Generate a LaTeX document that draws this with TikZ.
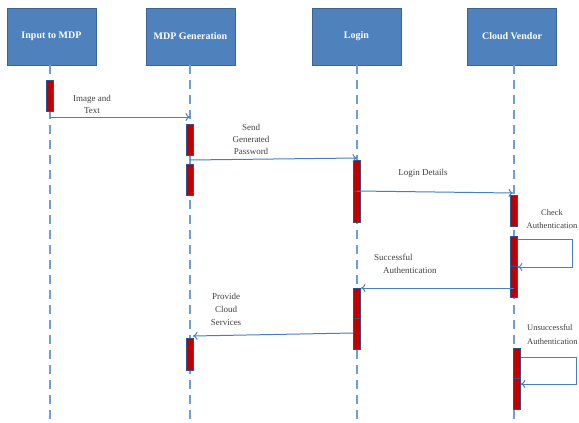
\documentclass[tikz,border=0pt]{standalone}
\usepackage{fontspec}
\setmainfont{Liberation Serif}
\usetikzlibrary{arrows.meta}
\definecolor{boxblue}{HTML}{4F81BD}
\definecolor{boxedge}{HTML}{3A6496}
\definecolor{lifeblue}{HTML}{6F9FD8}
\definecolor{barred}{HTML}{C00000}
\definecolor{baredge}{HTML}{2F528F}
\definecolor{arrowblue}{HTML}{4A7EC2}
\begin{document}
\begin{tikzpicture}[x=1pt,y=-1pt,
  actor/.style={draw=boxedge, fill=boxblue, line width=0.8pt, minimum width=89pt, minimum height=57pt, inner sep=0pt, text=white, font=\bfseries\fontsize{10}{12}\selectfont},
  lifeline/.style={draw=lifeblue, line width=1.1pt, dash pattern=on 9pt off 6pt},
  bar/.style={draw=baredge, fill=barred, line width=0.7pt, minimum width=7pt, inner sep=0pt},
  splitbar/.style={bar, path picture={\draw[baredge, line width=0.7pt] (path picture bounding box.west) -- (path picture bounding box.east);}},
  msg/.style={draw=arrowblue, line width=1pt, -{To[length=4.5pt,width=8pt]}},
  lbl/.style={font=\fontsize{9}{12.5}\selectfont, text=black!75, inner sep=0pt, align=center}]
\useasboundingbox (0,0) rectangle (579,423);

% actors
\node[actor] (a1) at (51.5,36.5) {Input to MDP};
\node[actor] (a2) at (190.5,36.5) {MDP Generation};
\node[actor] (a3) at (356.5,36.5) {Login};
\node[actor] (a4) at (512,36.5) {Cloud Vendor};

% lifeline ends
\coordinate (e1) at (50,423);
\coordinate (e2) at (190,423);
\coordinate (e3) at (357,423);
\coordinate (e4) at (514,423);
\draw[lifeline] (a1.south -| e1) -- (e1);
\draw[lifeline] (a2.south -| e2) -- (e2);
\draw[lifeline] (a3.south -| e3) -- (e3);
\draw[lifeline] (a4.south -| e4) -- (e4);

% activation bars
\node[bar, minimum height=31pt] (b1) at (50,95.5) {};
\node[bar, minimum height=31pt] (b2) at (190,139.5) {};
\node[bar, minimum height=31pt] (b3) at (190,179.5) {};
\node[splitbar, minimum height=62pt] (b4) at (357,191) {};
\node[bar, minimum height=31pt] (b5) at (514,210.5) {};
\node[splitbar, minimum height=61pt] (b6) at (514,266.5) {};
\node[splitbar, minimum height=61pt] (b7) at (357,318.5) {};
\node[bar, minimum height=32pt] (b8) at (190,354) {};
\node[splitbar, minimum height=61pt] (b9) at (517,378.5) {};

% message end points
\coordinate (m1s) at (50,117);
\coordinate (m1e) at (190,117);
\coordinate (m2s) at (190,160);
\coordinate (m2e) at (357,158);
\coordinate (m3s) at (357,191);
\coordinate (m3e) at (513,193);
\coordinate (c1) at (572,239);
\coordinate (c2) at (572,267);
\coordinate (m5s) at (514,288);
\coordinate (m5e) at (361,288);
\coordinate (m6s) at (353,333);
\coordinate (m6e) at (193,336);
\coordinate (u1) at (576,357);
\coordinate (u2) at (576,384);

\draw[msg] (m1s) -- (m1e);
\draw[msg] (m2s) -- (m2e);
\draw[msg] (m3s) -- (m3e);
\draw[msg] (b6.east |- c1) -- (c1) -- (c2) -- (b6.east |- c2);
\draw[msg] (m5s) -- (m5e);
\draw[msg] (m6s) -- (m6e);
\draw[msg] (b9.east |- u1) -- (u1) -- (u2) -- (b9.east |- u2);

% labels
\node[lbl] (t1) at (92,104.5) {Image and\\Text};
\node[lbl, font=\fontsize{9}{12}\selectfont] (t2) at (251,139.5) {Send\\Generated\\Password};
\node[lbl] (t3) at (423,173) {Login Details};
\node[lbl, font=\fontsize{8.5}{12.5}\selectfont] (t4) at (552,219) {Check\\Authentication};
\node[lbl, align=left, anchor=west] (t5) at (374,264) {Successful\\\hspace*{9pt}Authentication};
\node[lbl, font=\fontsize{9}{13}\selectfont] (t6) at (226,309) {Provide\\Cloud\\Services};
\node[lbl, align=left, anchor=west, font=\fontsize{8.5}{14}\selectfont] (t7) at (527,335) {Unsuccessful\\Authentication};
\end{tikzpicture}
\end{document}
